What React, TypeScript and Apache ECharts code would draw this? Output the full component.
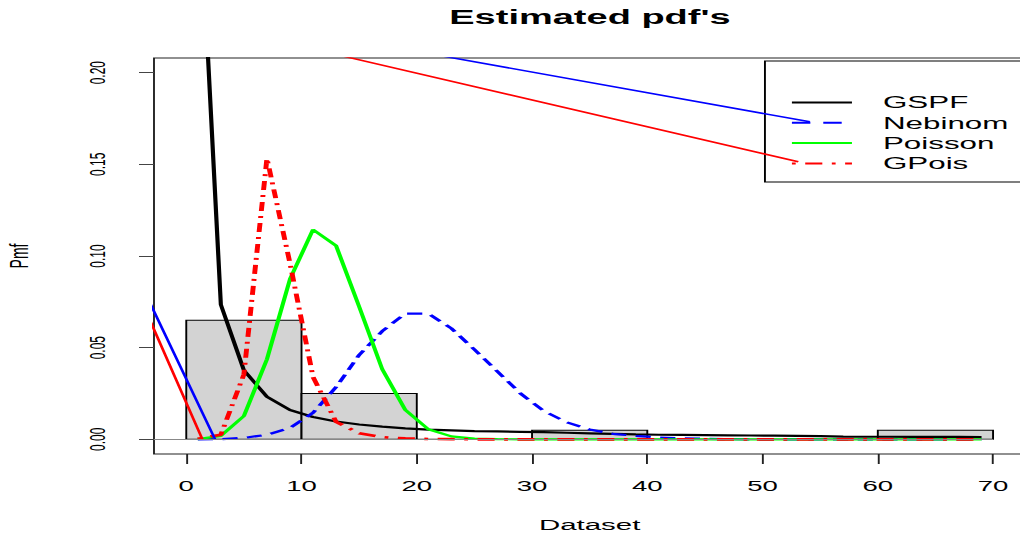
import React, { useEffect, useRef } from "react";
import * as echarts from "echarts";

// ---- data ----
const xPoints = [1, 3, 5, 7, 9, 11, 13, 15, 17, 19, 21, 23, 25, 27, 29, 31, 33, 35, 37, 39, 41, 43, 45, 47, 49, 51, 53, 55, 57, 59, 61, 63, 65, 67, 69];
const gspf = [0.316, 0.0735, 0.0377, 0.0232, 0.016, 0.0122, 0.0097, 0.0081, 0.0069, 0.006, 0.0053, 0.0049, 0.0045, 0.0043, 0.0041, 0.0039, 0.0036, 0.0033, 0.003, 0.0027, 0.0025, 0.0024, 0.0023, 0.0022, 0.0021, 0.002, 0.0019, 0.0017, 0.0015, 0.0014, 0.0014, 0.0013, 0.0013, 0.0013, 0.0012];
const nebinom = [0, 0.0001, 0.0008, 0.0025, 0.0062, 0.0145, 0.0285, 0.046, 0.059, 0.0686, 0.0686, 0.0605, 0.049, 0.037, 0.025, 0.0155, 0.0093, 0.0054, 0.003, 0.0019, 0.001, 0.0005, 0.0003, 0.0001, 0, 0, 0, 0, 0, 0, 0, 0, 0, 0, 0];
const poisson = [0.0001, 0.0019, 0.0127, 0.0437, 0.0874, 0.1144, 0.1056, 0.0724, 0.0383, 0.0161, 0.0055, 0.0016, 0.0004, 0.0001, 0, 0, 0, 0, 0, 0, 0, 0, 0, 0, 0, 0, 0, 0, 0, 0, 0, 0, 0, 0, 0];
const gpois = [0.0003, 0.0025, 0.0354, 0.1533, 0.096, 0.034, 0.0095, 0.0033, 0.0012, 0.0005, 0.0002, 0.0001, 0, 0, 0, 0, 0, 0, 0, 0, 0, 0, 0, 0, 0, 0, 0, 0, 0, 0, 0, 0, 0, 0, 0];

const binStart = [0, 10, 20, 30, 40, 50, 60];
const binEnd = [10, 20, 30, 40, 50, 60, 70];
const binDensity = [0.065, 0.025, 0, 0.005, 0, 0, 0.005];

// stray straight segments seen in the figure
const strayBlueX = [54.1, -16.7, 2.5];
const strayBlueY = [0.1732, 0.2529, 0];
const strayRedX = [53.1, -16.3, 1.4];
const strayRedY = [0.1514, 0.2527, 0];

const xTicks = [0, 10, 20, 30, 40, 50, 60, 70];
const yTicks = [0, 0.05, 0.1, 0.15, 0.2];
const legendNames = ["GSPF", "Nebinom", "Poisson", "GPois"];

const X_MIN = -2.8;
const X_MAX = 72.8;
const Y_MIN = -0.008;
const Y_MAX = 0.208;

const SX = 1.9;
const W = 620.6;
const H = 538;
const FONT = "'Liberation Sans', Arial, Helvetica, sans-serif";

const pairs = (xs: number[], ys: number[]) => xs.map((x, i) => [x, ys[i]]);

export default function App() {
  const ref = useRef<HTMLDivElement>(null);
  useEffect(() => {
    if (!ref.current) return;
    const chart = echarts.init(ref.current, null, { renderer: "svg" });
    const lineSeries = (name: string, ys: number[], color: string, type: any, width = 2) => ({
      name,
      type: "line",
      data: pairs(xPoints, ys),
      showSymbol: false,
      symbol: "none",
      clip: true,
      silent: true,
      lineStyle: { color, width, type },
    });
    const legendStyles = [
      { color: "#000000", dash: null },
      { color: "#0000ff", dash: [9.7, 6.8] },
      { color: "#00ff00", dash: null },
      { color: "#ff0000", dash: [2, 5, 9, 5] },
    ];
    const lx0 = 416.8, lx1 = 448.4, tx = 464.7, ly0 = 102.5, ldy = 20.3;
    const legendChildren: any[] = [
      { type: "rect", shape: { x: 402.6, y: 61, width: 137, height: 121 }, style: { fill: "#fff", stroke: "#000", lineWidth: 1 } },
    ];
    legendNames.forEach((n, i) => {
      const y = ly0 + ldy * i;
      legendChildren.push({
        type: "line",
        shape: { x1: lx0, y1: y, x2: lx1, y2: y },
        style: { stroke: legendStyles[i].color, lineWidth: 2, lineDash: legendStyles[i].dash || undefined },
      });
      legendChildren.push({
        type: "text",
        x: tx,
        y,
        style: { text: n, fill: "#000", font: `16.5px ${FONT}`, textAlign: "left", textVerticalAlign: "middle" },
      });
    });

    chart.setOption({
      animation: false,
      backgroundColor: "#ffffff",
      textStyle: { fontFamily: FONT },
      title: {
        text: "Estimated pdf's",
        left: "center",
        top: 7,
        padding: 0,
        textStyle: { fontSize: 20, fontWeight: "bold", color: "#000", fontFamily: FONT },
      },
      grid: {
        left: 81.05,
        width: 458.6,
        top: 58,
        height: 396,
        show: true,
        borderColor: "#222",
        borderWidth: 1,
        backgroundColor: "transparent",
        containLabel: false,
        outerBoundsMode: "none",
      },
      xAxis: {
        type: "value",
        min: X_MIN,
        max: X_MAX,
        name: "Dataset",
        nameLocation: "middle",
        nameGap: 63,
        nameTextStyle: { fontSize: 15.5, color: "#000", fontFamily: FONT },
        axisLine: { show: false, onZero: false },
        axisTick: { show: true, length: 10, customValues: xTicks, lineStyle: { color: "#222" } },
        axisLabel: { customValues: xTicks, fontSize: 14.5, color: "#000", margin: 25, fontFamily: FONT },
        splitLine: { show: false },
      },
      yAxis: {
        type: "value",
        min: Y_MIN,
        max: Y_MAX,
        name: "Pmf",
        nameLocation: "middle",
        nameRotate: 90,
        nameGap: 64,
        nameTextStyle: { fontSize: 14, color: "#000", fontFamily: FONT },
        axisLine: { show: false, onZero: false },
        axisTick: { show: true, length: 7.9, customValues: yTicks, lineStyle: { color: "#444" } },
        axisLabel: {
          customValues: yTicks,
          rotate: 90,
          fontSize: 12,
          color: "#000",
          margin: 24,
          fontFamily: FONT,
          formatter: (v: number) => v.toFixed(2),
        },
        splitLine: { show: false },
      },
      graphic: [{ type: "group", children: legendChildren }],
      series: [
        {
          type: "custom",
          silent: true,
          data: binStart.map((s, i) => [s, binEnd[i], binDensity[i]]),
          encode: { x: [0, 1], y: 2 },
          renderItem: (_params: any, api: any) => {
            const p0 = api.coord([api.value(0), api.value(2)]);
            const p1 = api.coord([api.value(1), 0]);
            return {
              type: "rect",
              shape: { x: p0[0], y: p0[1], width: p1[0] - p0[0], height: p1[1] - p0[1] },
              style: { fill: "#d3d3d3", stroke: "#000", lineWidth: 1 },
            };
          },
          markLine: {
            silent: true,
            symbol: "none",
            label: { show: false },
            lineStyle: { color: "#888", type: "solid", width: 1 },
            data: [[{ coord: [X_MIN, 0] }, { coord: [binEnd[binEnd.length - 1], 0] }]],
          },
        },
        lineSeries("GSPF", gspf, "#000000", "solid", 2.2),
        lineSeries("Nebinom", nebinom, "#0000ff", [8, 5], 2.2),
        lineSeries("Poisson", poisson, "#00ff00", "solid", 2.2),
        lineSeries("GPois", gpois, "#ff0000", [2, 5, 9, 5], 2.6),
        {
          type: "line",
          data: pairs(strayBlueX, strayBlueY),
          showSymbol: false,
          symbol: "none",
          clip: true,
          silent: true,
          lineStyle: { color: "#0000ff", width: 1.5 },
        },
        {
          type: "line",
          data: pairs(strayRedX, strayRedY),
          showSymbol: false,
          symbol: "none",
          clip: true,
          silent: true,
          lineStyle: { color: "#ff0000", width: 1.5 },
        },
      ],
    });
    return () => chart.dispose();
  }, []);

  return (
    <div style={{ position: "fixed", left: 0, top: 0, width: 1020, height: 538, overflow: "hidden", background: "#fff" }}>
      <div
        ref={ref}
        style={{ width: W, height: H, transform: `scaleX(${SX})`, transformOrigin: "0 0" }}
      />
    </div>
  );
}
